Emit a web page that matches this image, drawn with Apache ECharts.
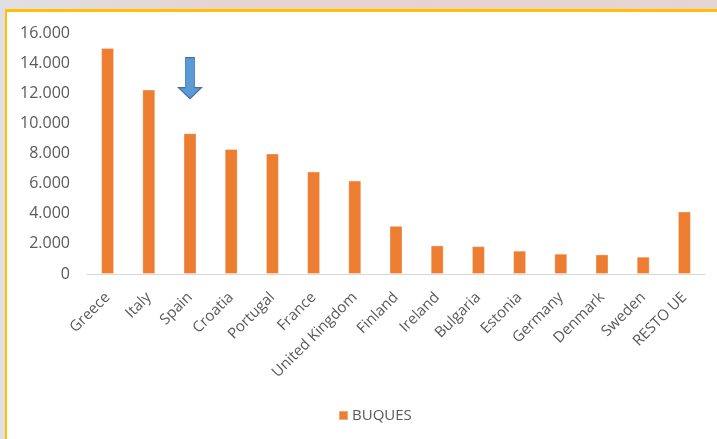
<!DOCTYPE html>
<html>
<head>
<meta charset="utf-8">
<script src="https://cdn.jsdelivr.net/npm/echarts@6/dist/echarts.min.js"></script>
<style>
  html, body { margin:0; padding:0; width:717px; height:439px; overflow:hidden; }
  body { background: linear-gradient(90deg, #dfe0e6 0%, #e6d4d2 30%, #e8d2cf 60%, #e4d6d5 100%); position:relative; }
  #frame { position:absolute; left:5px; top:9px; right:0; bottom:0; background:#fff;
           border-top:3px solid #FFC000; border-left:2px solid #FFC000; }
  #chart { position:absolute; left:0; top:0; width:717px; height:439px; }
</style>
</head>
<body>
<div id="frame"></div>
<div id="chart"></div>
<script>
const categories = ['Greece','Italy','Spain','Croatia','Portugal','France','United Kingdom','Finland','Ireland','Bulgaria','Estonia','Germany','Denmark','Sweden','RESTO UE'];
const buques = [15000, 12250, 9350, 8300, 8000, 6800, 6200, 3200, 1900, 1850, 1550, 1350, 1300, 1150, 4150];
const seriesName = 'BUQUES';
const yTicks = [0, 2000, 4000, 6000, 8000, 10000, 12000, 14000, 16000];
const arrowCategory = 'Spain';
const arrowValue = 13000;

function fmt(v) {
  if (v === 0) return '0';
  const s = String(Math.round(v));
  return s.replace(/\B(?=(\d{3})+(?!\d))/g, '.');
}

const chart = echarts.init(document.getElementById('chart'), null, { renderer: 'canvas' });
chart.setOption({
  backgroundColor: 'transparent',
  animation: false,
  textStyle: { fontFamily: 'Open Sans' },
  grid: { left: 87, right: 12, top: 33, bottom: 165, containLabel: false },
  legend: {
    data: [seriesName],
    left: 333, top: 403,
    itemWidth: 9, itemHeight: 9, itemGap: 5,
    icon: 'rect',
    textStyle: { color: '#595959', fontSize: 15, fontFamily: 'Open Sans', padding: [0,0,0,-1] }
  },
  xAxis: {
    type: 'category',
    data: categories,
    axisLine: { show: true, lineStyle: { color: '#D9D9D9', width: 1 } },
    axisTick: { show: false },
    axisLabel: { rotate: 45, margin: 21, color: '#595959', fontSize: 15, fontFamily: 'Open Sans', interval: 0 }
  },
  yAxis: {
    type: 'value',
    min: yTicks[0], max: yTicks[yTicks.length - 1], interval: 2000,
    axisLine: { show: false },
    axisTick: { show: false },
    splitLine: { show: false },
    axisLabel: { margin: 17, color: '#595959', fontSize: 16, fontFamily: 'Open Sans', formatter: fmt }
  },
  series: [{
    name: seriesName,
    type: 'bar',
    data: buques,
    barWidth: 13,
    itemStyle: { color: '#ED7D31', borderColor: 'rgba(255,255,255,0.35)', borderWidth: 1 },
    markPoint: {
      silent: true,
      data: [{ coord: [arrowCategory, arrowValue] }],
      symbol: 'path://M7,0 L16,0 L16,30 L23,30 L11.5,41 L0,30 L7,30 Z',
      symbolSize: [23, 41],
      itemStyle: { color: '#5B9BD5', borderColor: '#41719C', borderWidth: 1 },
      label: { show: false }
    }
  }]
});
</script>
</body>
</html>
